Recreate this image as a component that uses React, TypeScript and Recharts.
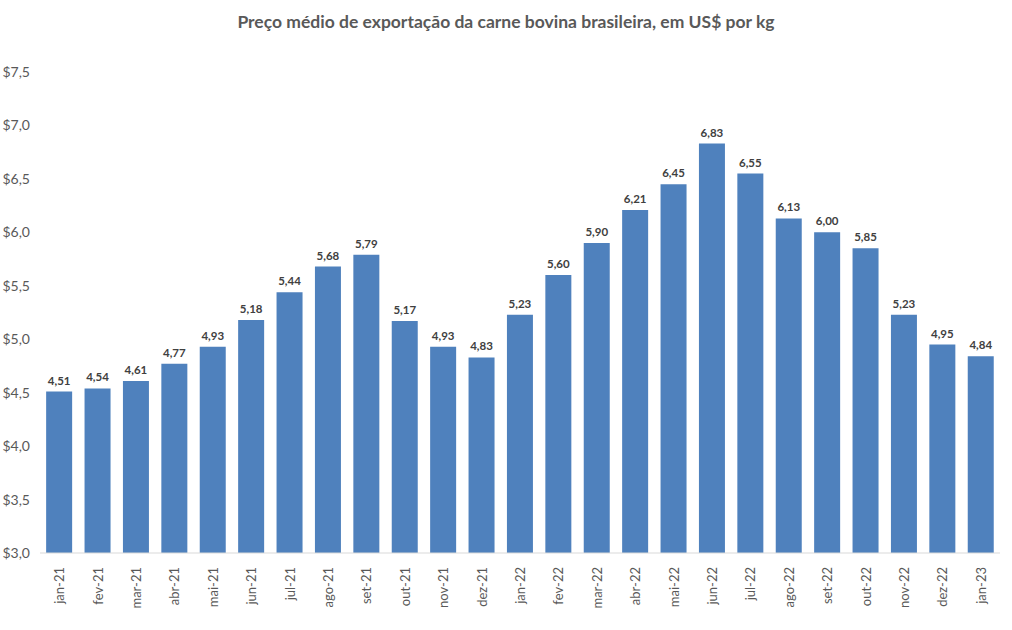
import { BarChart, Bar, XAxis, YAxis, LabelList } from 'recharts';

const months = [
  'jan-21', 'fev-21', 'mar-21', 'abr-21', 'mai-21', 'jun-21', 'jul-21', 'ago-21', 'set-21',
  'out-21', 'nov-21', 'dez-21', 'jan-22', 'fev-22', 'mar-22', 'abr-22', 'mai-22', 'jun-22',
  'jul-22', 'ago-22', 'set-22', 'out-22', 'nov-22', 'dez-22', 'jan-23',
];

const prices = [
  4.51, 4.54, 4.61, 4.77, 4.93, 5.18, 5.44, 5.68, 5.79, 5.17, 4.93, 4.83, 5.23,
  5.6, 5.9, 6.21, 6.45, 6.83, 6.55, 6.13, 6.0, 5.85, 5.23, 4.95, 4.84,
];

const yTicks = [3, 3.5, 4, 4.5, 5, 5.5, 6, 6.5, 7, 7.5];

const data = months.map((month, i) => ({ month, price: prices[i] }));

const FONT = 'Lato, "Open Sans", sans-serif';

const comma = (v: number, digits: number) => v.toFixed(digits).replace('.', ',');

// month labels stand vertically under each bar
function MonthTick({ x, y, payload }: any) {
  return (
    <text
      transform={`translate(${x + 5}, ${y + 6}) rotate(-90)`}
      textAnchor="end"
      fontSize={13}
      fontFamily={FONT}
      fill="#595959"
    >
      {payload.value}
    </text>
  );
}

export default function App() {
  return (
    <div style={{ position: 'absolute', left: 0, top: 0, width: 1012, height: 630, background: '#fff' }}>
      <div
        style={{
          position: 'absolute',
          top: 11,
          width: 1012,
          textAlign: 'center',
          fontFamily: FONT,
          fontWeight: 700,
          fontSize: 17.5,
          color: '#595959',
        }}
      >
        Preço médio de exportação da carne bovina brasileira, em US$ por kg
      </div>
      <BarChart
        width={1012}
        height={630}
        data={data}
        margin={{ top: 72, right: 12, left: 0, bottom: 0 }}
        barCategoryGap="16%"
      >
        <XAxis
          dataKey="month"
          interval={0}
          height={77}
          tick={<MonthTick />}
          tickLine={false}
          axisLine={{ stroke: '#d9d9d9' }}
        />
        <YAxis
          domain={[3, 7.5]}
          ticks={yTicks}
          width={40}
          axisLine={false}
          tickLine={false}
          tickSize={0}
          tickMargin={10}
          tickFormatter={(v: number) => '$' + comma(v, 1)}
          tick={{ fontSize: 14, fontFamily: FONT, fill: '#595959' }}
        />
        <Bar dataKey="price" fill="#4f81bd" isAnimationActive={false}>
          <LabelList
            dataKey="price"
            position="top"
            offset={7}
            formatter={(v: any) => comma(Number(v), 2)}
            style={{ fontSize: 11.5, fontWeight: 700, fontFamily: FONT, fill: '#404040' }}
          />
        </Bar>
      </BarChart>
    </div>
  );
}
